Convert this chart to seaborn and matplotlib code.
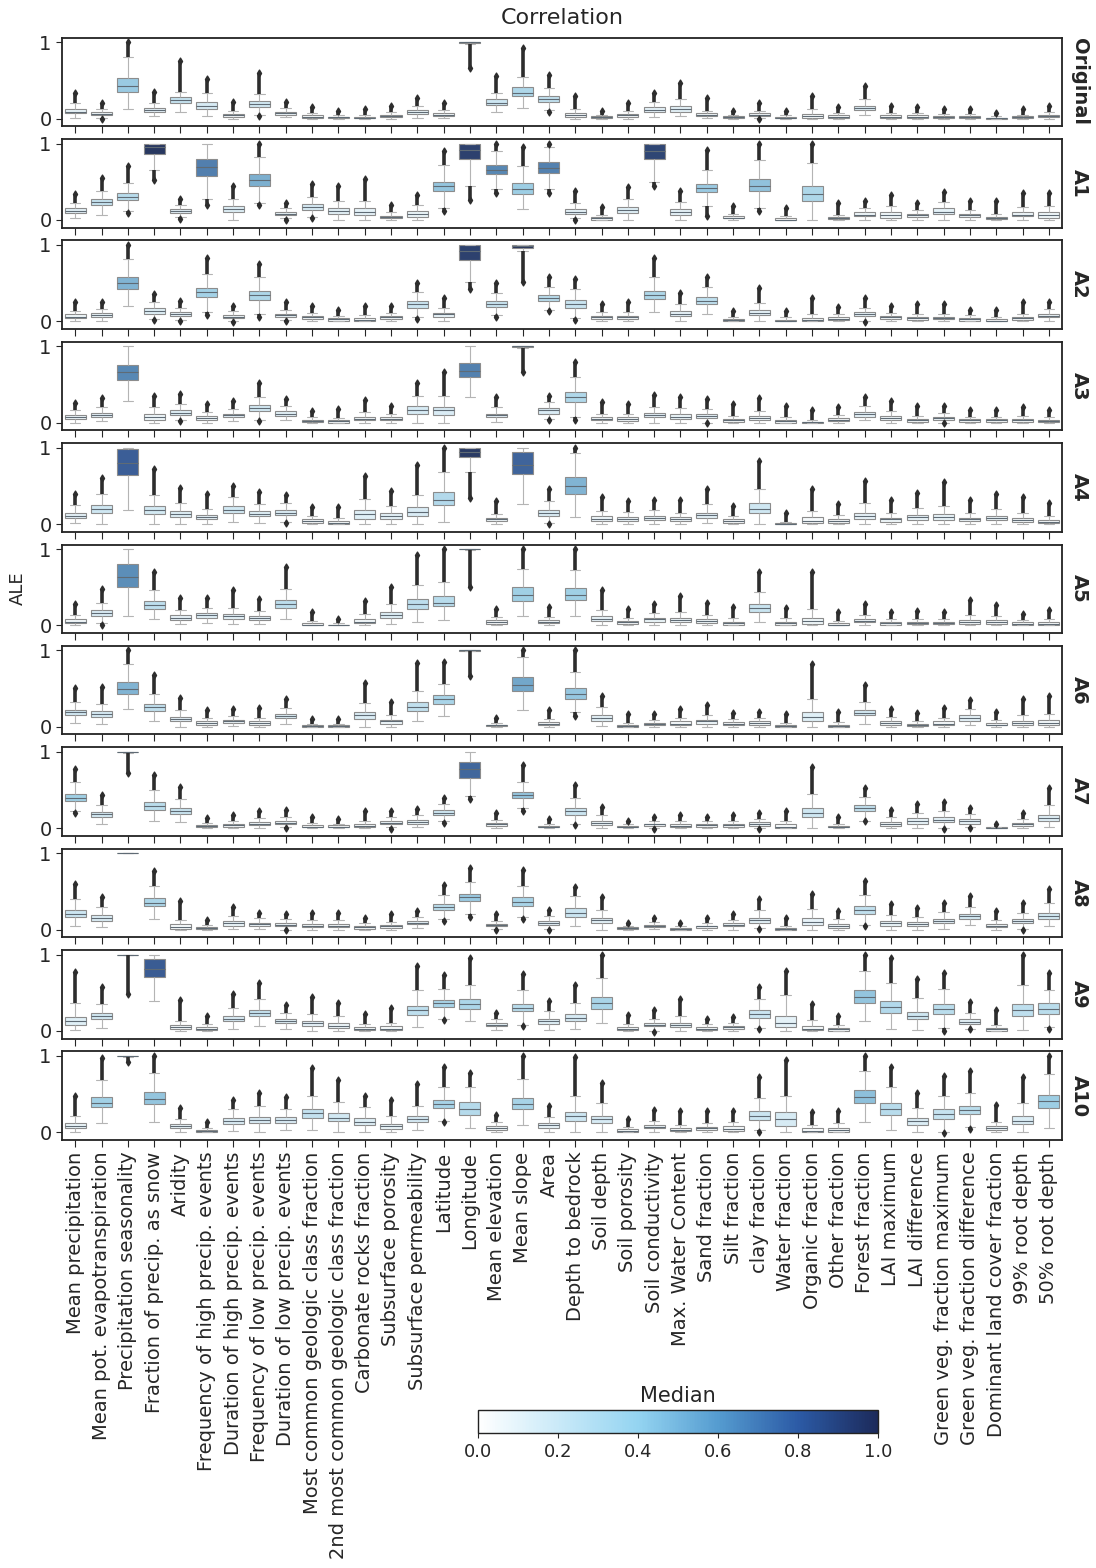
import numpy as np
import pandas as pd
import matplotlib
matplotlib.use('Agg')
import matplotlib.pyplot as plt
import seaborn as sns
from matplotlib.colors import LinearSegmentedColormap, Normalize
from matplotlib.cm import ScalarMappable

features = ['Mean precipitation', 'Mean pot. evapotranspiration', 'Precipitation seasonality',
            'Fraction of precip. as snow', 'Aridity', 'Frequency of high precip. events',
            'Duration of high precip. events', 'Frequency of low precip. events',
            'Duration of low precip. events', 'Most common geologic class fraction',
            '2nd most common geologic class fraction', 'Carbonate rocks fraction',
            'Subsurface porosity', 'Subsurface permeability', 'Latitude', 'Longitude',
            'Mean elevation', 'Mean slope', 'Area', 'Depth to bedrock', 'Soil depth',
            'Soil porosity', 'Soil conductivity', 'Max. Water Content', 'Sand fraction',
            'Silt fraction', 'clay fraction', 'Water fraction', 'Organic fraction',
            'Other fraction', 'Forest fraction', 'LAI maximum', 'LAI difference',
            'Green veg. fraction maximum', 'Green veg. fraction difference',
            'Dominant land cover fraction', '99% root depth', '50% root depth']

row_names = ['Original', 'A1', 'A2', 'A3', 'A4', 'A5', 'A6', 'A7', 'A8', 'A9', 'A10']

# per box: (lowest flier, whisker low, q1, median, q3, whisker high, highest flier)
orig = [(0.01,0.01,0.07,0.09,0.12,0.20,0.33), (0.0,0.01,0.04,0.06,0.08,0.13,0.20),
        (0.13,0.13,0.35,0.42,0.53,0.80,1.0), (0.03,0.03,0.09,0.11,0.14,0.20,0.35),
        (0.08,0.08,0.20,0.24,0.28,0.35,0.76), (0.03,0.03,0.13,0.17,0.22,0.33,0.52),
        (0,0,0.02,0.04,0.06,0.10,0.22), (0.03,0.05,0.15,0.19,0.23,0.32,0.60),
        (0.02,0.02,0.05,0.07,0.09,0.14,0.22), (0,0,0.01,0.02,0.04,0.07,0.15),
        (0,0,0.01,0.015,0.025,0.05,0.10), (0,0,0.005,0.01,0.02,0.04,0.12),
        (0,0,0.02,0.03,0.05,0.09,0.16), (0.01,0.01,0.06,0.08,0.11,0.17,0.27),
        (0.01,0.01,0.03,0.05,0.07,0.11,0.20), (0.66,0.98,0.995,1.0,1.0,1.0,1.0),
        (0.08,0.08,0.18,0.21,0.25,0.34,0.56), (0.14,0.14,0.29,0.34,0.41,0.55,0.92),
        (0.09,0.11,0.22,0.26,0.30,0.40,0.57), (0,0,0.02,0.04,0.07,0.12,0.30),
        (0,0,0.01,0.02,0.03,0.05,0.10), (0,0,0.02,0.04,0.06,0.10,0.20),
        (0.02,0.02,0.09,0.11,0.15,0.22,0.34), (0.03,0.03,0.09,0.12,0.16,0.25,0.46),
        (0.01,0.01,0.03,0.05,0.07,0.10,0.27), (0,0,0.01,0.02,0.03,0.05,0.10),
        (0.0,0.01,0.03,0.05,0.07,0.10,0.20), (0,0,0.005,0.01,0.02,0.04,0.10),
        (0,0,0.01,0.03,0.06,0.12,0.30), (0,0,0.01,0.02,0.04,0.07,0.15),
        (0.04,0.04,0.11,0.14,0.17,0.25,0.42), (0,0,0.01,0.02,0.04,0.07,0.16),
        (0,0,0.01,0.02,0.04,0.07,0.15), (0,0,0.01,0.02,0.03,0.06,0.13),
        (0,0,0.01,0.02,0.03,0.06,0.13), (0,0,0.0,0.005,0.01,0.03,0.07),
        (0,0,0.01,0.02,0.03,0.05,0.12), (0,0,0.02,0.03,0.05,0.08,0.16)]

a1 = [(0.02,0.02,0.09,0.12,0.15,0.22,0.34), (0.06,0.06,0.20,0.24,0.28,0.38,0.55),
      (0.09,0.12,0.26,0.30,0.35,0.48,0.70), (0.52,0.66,0.86,0.96,1.0,1.0,1.0),
      (0.01,0.04,0.09,0.12,0.14,0.20,0.28), (0.20,0.28,0.58,0.69,0.80,1.0,1.0),
      (0,0,0.10,0.14,0.18,0.27,0.44), (0.19,0.22,0.45,0.52,0.60,0.82,1.0),
      (0.0,0.02,0.06,0.08,0.10,0.15,0.22), (0.03,0.04,0.13,0.17,0.21,0.30,0.47),
      (0,0,0.08,0.12,0.15,0.25,0.45), (0,0,0.07,0.11,0.16,0.25,0.53),
      (0,0,0.02,0.04,0.05,0.10,0.20), (0,0,0.04,0.08,0.12,0.20,0.33),
      (0.12,0.15,0.38,0.44,0.50,0.72,0.90), (0.26,0.45,0.80,0.92,1.0,1.0,1.0),
      (0.35,0.40,0.60,0.66,0.72,0.90,1.0), (0.14,0.14,0.34,0.41,0.48,0.70,0.96),
      (0.35,0.40,0.62,0.68,0.76,0.95,1.0), (0.0,0.02,0.08,0.11,0.14,0.22,0.38),
      (0,0,0.005,0.02,0.04,0.07,0.17), (0,0,0.09,0.13,0.17,0.27,0.43),
      (0.45,0.50,0.80,0.90,1.0,1.0,1.0), (0,0,0.07,0.11,0.14,0.24,0.38),
      (0.05,0.18,0.36,0.42,0.47,0.65,0.92), (0,0,0.02,0.03,0.05,0.08,0.18),
      (0.12,0.15,0.38,0.45,0.53,0.78,1.0), (0,0,0.0,0.005,0.02,0.05,0.15),
      (0,0,0.25,0.34,0.45,0.75,1.0), (0,0,0.01,0.02,0.04,0.07,0.22),
      (0,0,0.05,0.07,0.10,0.15,0.25), (0,0,0.03,0.06,0.10,0.18,0.33),
      (0,0,0.04,0.06,0.08,0.13,0.22), (0,0,0.08,0.11,0.15,0.23,0.37),
      (0,0,0.04,0.06,0.08,0.13,0.25), (0,0,0.01,0.02,0.04,0.08,0.25),
      (0,0,0.05,0.07,0.10,0.17,0.35), (0,0,0.03,0.06,0.10,0.18,0.35)]

a2 = [(0,0,0.04,0.06,0.09,0.14,0.25), (0.01,0.01,0.06,0.08,0.11,0.16,0.25),
      (0.20,0.20,0.42,0.50,0.58,0.82,1.0), (0.02,0.03,0.10,0.13,0.17,0.25,0.36),
      (0.0,0.02,0.07,0.09,0.12,0.17,0.27), (0.08,0.12,0.32,0.38,0.44,0.62,0.83),
      (-0.01,0.0,0.04,0.06,0.08,0.13,0.20), (0.06,0.10,0.28,0.34,0.40,0.58,0.75),
      (0.01,0.02,0.06,0.08,0.10,0.15,0.25), (0,0,0.03,0.05,0.07,0.11,0.20),
      (0,0,0.01,0.03,0.04,0.07,0.15), (0,0,0.01,0.02,0.04,0.08,0.20),
      (0,0,0.03,0.05,0.07,0.11,0.20), (0.03,0.05,0.18,0.22,0.27,0.38,0.50),
      (0.01,0.01,0.06,0.09,0.11,0.18,0.30), (0.42,0.52,0.80,0.92,1.0,1.0,1.0),
      (0.06,0.08,0.19,0.23,0.27,0.37,0.50), (0.52,0.92,0.96,0.98,1.0,1.0,1.0),
      (0.13,0.15,0.26,0.30,0.34,0.45,0.58), (0.02,0.04,0.18,0.23,0.28,0.42,0.55),
      (0,0,0.03,0.05,0.07,0.12,0.23), (0,0,0.03,0.05,0.07,0.12,0.25),
      (0.12,0.12,0.29,0.34,0.40,0.58,0.83), (0,0,0.07,0.10,0.14,0.22,0.37),
      (0.09,0.09,0.22,0.27,0.32,0.45,0.58), (0,0,0.01,0.02,0.03,0.06,0.14),
      (0,0,0.08,0.11,0.15,0.24,0.43), (0,0,0.0,0.01,0.02,0.05,0.14),
      (0,0,0.0,0.02,0.04,0.10,0.30), (0,0,0.02,0.03,0.05,0.09,0.19),
      (-0.01,0.01,0.07,0.09,0.12,0.18,0.30), (0,0,0.03,0.05,0.07,0.11,0.20),
      (0,0,0.02,0.04,0.06,0.10,0.22), (0,0,0.03,0.04,0.06,0.10,0.22),
      (0,0,0.01,0.03,0.04,0.08,0.15), (0,0,0.0,0.01,0.03,0.06,0.15),
      (0,0,0.02,0.04,0.06,0.10,0.25), (0.01,0.01,0.05,0.07,0.10,0.16,0.25)]

a3 = [(0,0,0.05,0.07,0.10,0.16,0.26), (0.02,0.02,0.08,0.10,0.13,0.20,0.32),
      (0.29,0.29,0.56,0.66,0.76,1.0,1.0), (0,0,0.04,0.07,0.11,0.20,0.35),
      (0.02,0.03,0.10,0.13,0.17,0.25,0.37), (0,0,0.04,0.06,0.09,0.14,0.25),
      (0.02,0.02,0.07,0.10,0.12,0.18,0.29), (0.02,0.04,0.15,0.19,0.23,0.33,0.52),
      (0.03,0.03,0.09,0.12,0.15,0.22,0.31), (0,0,0.01,0.02,0.04,0.07,0.15),
      (0,0,0.0,0.02,0.03,0.06,0.18), (0,0,0.03,0.05,0.08,0.14,0.30),
      (0,0,0.03,0.05,0.07,0.12,0.22), (0,0,0.12,0.17,0.22,0.35,0.52),
      (0,0,0.10,0.16,0.21,0.35,0.67), (0.33,0.33,0.60,0.68,0.78,1.0,1.0),
      (0.01,0.01,0.07,0.10,0.12,0.20,0.34), (0.66,0.98,0.995,1.0,1.0,1.0,1.0),
      (0.03,0.05,0.12,0.16,0.19,0.27,0.35), (0.04,0.07,0.27,0.33,0.40,0.60,0.80),
      (0,0,0.03,0.05,0.07,0.11,0.27), (0,0,0.02,0.05,0.07,0.12,0.25),
      (0,0,0.07,0.10,0.13,0.21,0.36), (0,0,0.05,0.08,0.11,0.19,0.34),
      (-0.01,0.0,0.06,0.09,0.11,0.18,0.31), (0,0,0.01,0.03,0.05,0.09,0.24),
      (0,0,0.04,0.06,0.09,0.15,0.32), (0,0,0.0,0.02,0.04,0.08,0.22),
      (0,0,0.0,0.005,0.01,0.03,0.16), (0,0,0.02,0.04,0.06,0.10,0.20),
      (0.03,0.03,0.08,0.11,0.14,0.22,0.33), (0,0,0.04,0.06,0.09,0.15,0.28),
      (0,0,0.01,0.03,0.05,0.09,0.22), (-0.01,0.0,0.04,0.06,0.08,0.13,0.22),
      (0,0,0.01,0.03,0.05,0.08,0.17), (0,0,0.01,0.03,0.05,0.08,0.17),
      (0,0,0.01,0.03,0.05,0.09,0.20), (0,0,0.01,0.02,0.04,0.08,0.17)]

a4 = [(0.01,0.01,0.08,0.11,0.15,0.25,0.40), (0,0,0.15,0.20,0.25,0.40,0.60),
      (0.18,0.18,0.64,0.80,0.98,1.0,1.0), (0,0,0.13,0.18,0.23,0.38,0.72),
      (0,0,0.09,0.13,0.17,0.27,0.47), (0,0,0.06,0.09,0.12,0.20,0.39),
      (0.03,0.03,0.15,0.19,0.23,0.35,0.50), (0.01,0.01,0.10,0.13,0.17,0.26,0.42),
      (0.01,0.03,0.12,0.15,0.19,0.27,0.38), (0,0,0.02,0.04,0.06,0.10,0.22),
      (0,0,0.0,0.02,0.04,0.08,0.22), (0,0,0.07,0.13,0.19,0.33,0.63),
      (0,0,0.07,0.11,0.14,0.24,0.43), (0,0,0.10,0.16,0.22,0.38,0.77),
      (0.03,0.03,0.25,0.32,0.42,0.68,1.0), (0.34,0.68,0.88,0.95,1.0,1.0,1.0),
      (0,0,0.04,0.06,0.08,0.13,0.30), (0.26,0.26,0.65,0.78,0.95,1.0,1.0),
      (0.0,0.02,0.11,0.15,0.19,0.30,0.46), (0.09,0.09,0.40,0.50,0.61,0.93,1.0),
      (0,0,0.04,0.07,0.10,0.17,0.36), (0,0,0.04,0.07,0.09,0.16,0.30),
      (0,0,0.05,0.08,0.11,0.19,0.32), (0,0,0.04,0.06,0.09,0.15,0.32),
      (0.01,0.01,0.08,0.12,0.15,0.26,0.46), (0,0,0.02,0.04,0.06,0.10,0.23),
      (0,0,0.14,0.20,0.27,0.46,0.83), (0,0,0.0,0.005,0.01,0.03,0.15),
      (0,0,0.01,0.04,0.09,0.17,0.46), (0,0,0.02,0.04,0.07,0.12,0.26),
      (0,0,0.07,0.10,0.15,0.27,0.56), (0,0,0.03,0.06,0.08,0.15,0.31),
      (0,0,0.05,0.09,0.12,0.21,0.41), (0,0,0.05,0.09,0.13,0.24,0.55),
      (0,0,0.04,0.06,0.08,0.14,0.31), (0,0,0.05,0.08,0.11,0.20,0.40),
      (0,0,0.03,0.05,0.08,0.14,0.36), (0,0,0.01,0.03,0.05,0.10,0.28)]

a5 = [(0,0,0.03,0.05,0.08,0.14,0.28), (0.01,0.03,0.12,0.16,0.20,0.30,0.48),
      (0.12,0.12,0.50,0.64,0.80,1.0,1.0), (0.08,0.08,0.22,0.27,0.32,0.47,0.70),
      (0.02,0.02,0.07,0.10,0.13,0.20,0.36), (0.03,0.03,0.10,0.13,0.16,0.23,0.36),
      (0.02,0.02,0.09,0.12,0.15,0.23,0.46), (0.02,0.02,0.07,0.10,0.12,0.19,0.34),
      (0.08,0.08,0.23,0.28,0.33,0.48,0.76), (0,0,0.005,0.01,0.03,0.06,0.17),
      (0,0,0.0,0.005,0.01,0.03,0.09), (0,0,0.03,0.05,0.08,0.15,0.32),
      (0.02,0.02,0.10,0.14,0.17,0.28,0.50), (0.05,0.05,0.22,0.28,0.35,0.53,0.92),
      (0.07,0.07,0.25,0.30,0.38,0.57,1.0), (0.50,0.99,0.995,1.0,1.0,1.0,1.0),
      (0,0,0.02,0.04,0.07,0.11,0.22), (0.12,0.12,0.32,0.40,0.50,0.74,1.0),
      (0,0,0.03,0.05,0.07,0.11,0.24), (0.12,0.12,0.33,0.40,0.49,0.73,1.0),
      (0,0,0.06,0.09,0.12,0.20,0.46), (0,0,0.02,0.04,0.06,0.10,0.22),
      (0,0,0.05,0.08,0.10,0.16,0.28), (0,0,0.05,0.07,0.10,0.17,0.38),
      (0,0,0.03,0.06,0.08,0.14,0.29), (0,0,0.01,0.03,0.05,0.10,0.24),
      (0.05,0.05,0.18,0.23,0.28,0.44,0.70), (0,0,0.01,0.03,0.05,0.10,0.23),
      (0,0,0.02,0.06,0.10,0.22,0.70), (0,0,0.0,0.01,0.03,0.06,0.17),
      (0,0,0.04,0.06,0.09,0.14,0.28), (0,0,0.01,0.03,0.05,0.09,0.17),
      (0,0,0.02,0.03,0.05,0.09,0.19), (0,0,0.02,0.03,0.05,0.09,0.17),
      (0,0,0.02,0.05,0.07,0.14,0.33), (0,0,0.02,0.04,0.07,0.12,0.27),
      (0,0,0.01,0.02,0.04,0.07,0.15), (0,0,0.01,0.02,0.04,0.08,0.20)]

a6 = [(0.05,0.05,0.15,0.19,0.22,0.32,0.51), (0.04,0.04,0.13,0.17,0.21,0.30,0.52),
      (0.23,0.23,0.43,0.50,0.59,0.82,1.0), (0.08,0.08,0.21,0.26,0.30,0.43,0.68),
      (0,0,0.07,0.10,0.13,0.22,0.38), (0,0,0.03,0.05,0.07,0.12,0.22),
      (0.01,0.01,0.05,0.07,0.09,0.14,0.23), (0,0,0.03,0.05,0.07,0.12,0.24),
      (0.04,0.04,0.11,0.14,0.17,0.24,0.36), (0,0,0.0,0.01,0.02,0.04,0.10),
      (0,0,0.0,0.01,0.02,0.04,0.10), (0,0,0.10,0.15,0.19,0.31,0.57),
      (0,0,0.04,0.07,0.09,0.16,0.32), (0.07,0.07,0.21,0.26,0.32,0.47,0.84),
      (0.14,0.14,0.30,0.36,0.42,0.56,0.85), (0.66,0.99,0.995,1.0,1.0,1.0,1.0),
      (0,0,0.01,0.02,0.03,0.05,0.12), (0.22,0.22,0.47,0.55,0.65,0.92,1.0),
      (0,0,0.02,0.04,0.06,0.10,0.22), (0.14,0.20,0.37,0.43,0.51,0.72,1.0),
      (0.01,0.01,0.08,0.12,0.15,0.26,0.40), (0,0,0.0,0.01,0.02,0.05,0.17),
      (0,0,0.02,0.04,0.05,0.09,0.17), (0,0,0.02,0.04,0.07,0.12,0.23),
      (0,0,0.04,0.07,0.09,0.16,0.29), (0,0,0.02,0.04,0.06,0.10,0.18),
      (0,0,0.02,0.05,0.07,0.12,0.20), (0,0,0.0,0.01,0.02,0.05,0.17),
      (0,0,0.08,0.13,0.20,0.36,0.82), (0,0,0.0,0.01,0.02,0.06,0.19),
      (0.04,0.04,0.15,0.18,0.22,0.33,0.55), (0,0,0.03,0.05,0.08,0.13,0.23),
      (0,0,0.01,0.02,0.04,0.08,0.18), (0,0,0.02,0.04,0.07,0.12,0.25),
      (0.02,0.02,0.08,0.11,0.15,0.23,0.35), (0,0,0.02,0.03,0.05,0.09,0.20),
      (0,0,0.03,0.05,0.08,0.15,0.37), (0,0,0.03,0.05,0.09,0.17,0.40)]

a7 = [(0.20,0.22,0.35,0.40,0.45,0.60,0.77), (0.05,0.05,0.14,0.18,0.21,0.31,0.44),
      (0.72,0.99,0.995,1.0,1.0,1.0,1.0), (0.10,0.10,0.24,0.29,0.34,0.50,0.70),
      (0.08,0.08,0.19,0.23,0.27,0.38,0.54), (0,0,0.01,0.03,0.04,0.07,0.13),
      (0,0,0.02,0.04,0.05,0.09,0.17), (0,0,0.04,0.06,0.08,0.13,0.23),
      (0.0,0.01,0.05,0.07,0.10,0.15,0.24), (0,0,0.01,0.02,0.04,0.07,0.15),
      (0,0,0.01,0.02,0.04,0.06,0.12), (0,0,0.01,0.03,0.05,0.09,0.22),
      (-0.01,0.01,0.05,0.07,0.10,0.15,0.22), (0.01,0.01,0.06,0.08,0.11,0.17,0.25),
      (0.07,0.09,0.17,0.20,0.24,0.32,0.40), (0.38,0.42,0.66,0.77,0.87,1.0,1.0),
      (0,0,0.03,0.05,0.07,0.11,0.20), (0.22,0.26,0.39,0.44,0.48,0.61,0.83),
      (0,0,0.01,0.02,0.03,0.06,0.12), (0.04,0.05,0.17,0.22,0.27,0.40,0.56),
      (0,0,0.04,0.07,0.10,0.17,0.28), (0,0,0.01,0.02,0.03,0.05,0.10),
      (-0.01,0.0,0.03,0.05,0.06,0.10,0.15), (0,0,0.01,0.03,0.05,0.09,0.17),
      (0,0,0.02,0.04,0.05,0.09,0.15), (0,0,0.02,0.04,0.06,0.10,0.17),
      (-0.01,0.0,0.03,0.06,0.08,0.12,0.20), (0,0,0.0,0.02,0.05,0.10,0.22),
      (0,0,0.14,0.20,0.27,0.45,0.80), (0,0,0.01,0.02,0.03,0.06,0.15),
      (0.09,0.10,0.22,0.26,0.30,0.41,0.52), (0,0,0.03,0.05,0.08,0.14,0.24),
      (0,0,0.06,0.09,0.13,0.20,0.32), (-0.01,0.0,0.08,0.11,0.15,0.23,0.34),
      (0.0,0.01,0.06,0.09,0.12,0.18,0.26), (0,0,0.0,0.003,0.01,0.02,0.06),
      (0,0,0.03,0.05,0.07,0.12,0.20), (0.01,0.01,0.09,0.13,0.17,0.30,0.53)]

a8 = [(0.04,0.04,0.17,0.21,0.26,0.40,0.60), (0.03,0.03,0.11,0.15,0.19,0.30,0.42),
      (1.0,1.0,1.0,1.0,1.0,1.0,1.0), (0.14,0.14,0.31,0.35,0.41,0.57,0.77),
      (0,0,0.01,0.03,0.07,0.13,0.37), (0,0,0.01,0.02,0.03,0.06,0.13),
      (0.01,0.01,0.05,0.08,0.11,0.18,0.29), (0.01,0.01,0.05,0.07,0.09,0.15,0.22),
      (-0.01,0.0,0.04,0.06,0.09,0.14,0.21), (0,0,0.03,0.05,0.07,0.12,0.22),
      (0,0,0.03,0.05,0.07,0.12,0.22), (0,0,0.01,0.03,0.05,0.08,0.15),
      (0,0,0.02,0.04,0.06,0.10,0.20), (0.02,0.02,0.07,0.09,0.11,0.17,0.24),
      (0.11,0.14,0.26,0.29,0.33,0.45,0.58), (0.17,0.20,0.37,0.42,0.47,0.62,0.80),
      (-0.01,0.01,0.04,0.06,0.07,0.11,0.20), (0.14,0.17,0.31,0.36,0.42,0.57,0.78),
      (-0.01,0.01,0.06,0.09,0.11,0.18,0.26), (0.05,0.05,0.16,0.22,0.28,0.44,0.56),
      (0,0,0.08,0.12,0.15,0.26,0.42), (0,0,0.01,0.02,0.03,0.05,0.09),
      (0.01,0.01,0.03,0.05,0.06,0.10,0.15), (0,0,0.0,0.01,0.02,0.04,0.09),
      (0,0,0.02,0.04,0.05,0.09,0.15), (0,0,0.04,0.06,0.08,0.12,0.20),
      (0.01,0.02,0.09,0.12,0.15,0.25,0.40), (0,0,0.0,0.01,0.02,0.05,0.15),
      (0,0,0.06,0.10,0.15,0.27,0.47), (0,0,0.02,0.05,0.07,0.14,0.24),
      (0.05,0.06,0.21,0.26,0.31,0.45,0.64), (0,0,0.05,0.08,0.11,0.19,0.34),
      (0,0,0.04,0.07,0.10,0.17,0.28), (0.01,0.01,0.08,0.11,0.14,0.23,0.35),
      (0.06,0.06,0.14,0.18,0.21,0.30,0.44), (0,0,0.03,0.05,0.07,0.12,0.24),
      (0.0,0.01,0.08,0.11,0.14,0.22,0.35), (0.04,0.04,0.14,0.18,0.22,0.35,0.53)]

a9 = [(0.01,0.01,0.08,0.13,0.18,0.36,0.77), (0.04,0.04,0.16,0.19,0.23,0.35,0.57),
      (0.49,0.99,0.995,1.0,1.0,1.0,1.0), (0.39,0.39,0.70,0.81,0.94,1.0,1.0),
      (0,0,0.03,0.05,0.08,0.13,0.40), (0,0,0.01,0.03,0.05,0.09,0.20),
      (0.02,0.02,0.13,0.16,0.20,0.30,0.48), (0.06,0.06,0.19,0.24,0.28,0.42,0.63),
      (0.03,0.03,0.10,0.13,0.16,0.23,0.34), (0,0,0.07,0.10,0.13,0.22,0.44),
      (0,0,0.04,0.07,0.11,0.20,0.37), (0,0,0.01,0.03,0.05,0.09,0.22),
      (0,0,0.01,0.03,0.06,0.11,0.30), (0.05,0.05,0.21,0.27,0.33,0.53,0.85),
      (0.14,0.16,0.31,0.36,0.40,0.55,0.73), (0.13,0.13,0.29,0.35,0.42,0.60,0.95),
      (0.01,0.01,0.06,0.08,0.10,0.15,0.23), (0.06,0.08,0.26,0.30,0.35,0.53,0.74),
      (0.01,0.01,0.09,0.13,0.16,0.26,0.39), (0.02,0.02,0.13,0.17,0.22,0.37,0.60),
      (0.10,0.10,0.29,0.36,0.44,0.69,1.0), (0,0,0.01,0.03,0.05,0.09,0.21),
      (-0.01,0.0,0.06,0.08,0.10,0.16,0.28), (0,0,0.05,0.08,0.11,0.20,0.42),
      (0,0,0.01,0.03,0.05,0.09,0.16), (0,0,0.03,0.05,0.07,0.11,0.18),
      (0.02,0.04,0.17,0.22,0.27,0.42,0.58), (0,0,0.05,0.11,0.19,0.47,0.78),
      (0,0,0.01,0.03,0.07,0.14,0.35), (0,0,0.0,0.02,0.04,0.08,0.19),
      (0.13,0.13,0.37,0.44,0.53,0.78,1.0), (0.02,0.02,0.24,0.32,0.39,0.63,0.95),
      (0.01,0.01,0.15,0.20,0.25,0.43,0.68), (0.0,0.04,0.22,0.29,0.35,0.55,0.76),
      (0.02,0.03,0.09,0.12,0.15,0.24,0.38), (0,0,0.0,0.02,0.04,0.08,0.27),
      (0.01,0.01,0.19,0.27,0.35,0.60,1.0), (0.02,0.05,0.22,0.29,0.36,0.53,0.76)]

a10 = [(0,0,0.05,0.08,0.12,0.21,0.47), (0.12,0.12,0.33,0.39,0.46,0.69,0.98),
       (0.92,0.99,0.995,1.0,1.0,1.0,1.0), (0.14,0.14,0.37,0.44,0.53,0.78,1.0),
       (0,0,0.05,0.08,0.11,0.18,0.32), (0,0,0.0,0.02,0.03,0.06,0.14),
       (0.02,0.02,0.11,0.15,0.19,0.30,0.42), (0.01,0.01,0.12,0.16,0.20,0.34,0.52),
       (0.03,0.03,0.12,0.16,0.20,0.31,0.46), (0.03,0.03,0.19,0.25,0.31,0.48,0.84),
       (0,0,0.15,0.19,0.25,0.40,0.68), (0,0,0.10,0.14,0.19,0.33,0.47),
       (0,0,0.04,0.08,0.11,0.21,0.42), (0.03,0.03,0.13,0.17,0.22,0.34,0.63),
       (0.13,0.15,0.32,0.37,0.42,0.59,0.86), (0.05,0.05,0.23,0.31,0.40,0.60,0.78),
       (0,0,0.03,0.05,0.08,0.14,0.23), (0.10,0.10,0.30,0.37,0.45,0.70,1.0),
       (0,0,0.06,0.09,0.12,0.20,0.35), (0,0,0.15,0.21,0.27,0.48,0.99),
       (0,0,0.12,0.17,0.22,0.38,0.65), (0,0,0.01,0.02,0.04,0.07,0.17),
       (0,0,0.05,0.07,0.10,0.15,0.29), (0,0,0.02,0.03,0.05,0.10,0.28),
       (0,0,0.03,0.05,0.07,0.12,0.28), (0,0,0.02,0.04,0.08,0.14,0.28),
       (0.0,0.03,0.16,0.22,0.28,0.45,0.72), (0,0,0.08,0.17,0.26,0.48,0.95),
       (0,0,0.0,0.02,0.05,0.10,0.27), (0,0,0.01,0.03,0.06,0.12,0.28),
       (0.14,0.14,0.39,0.46,0.55,0.80,1.0), (0.03,0.03,0.23,0.30,0.38,0.60,0.86),
       (0,0,0.10,0.15,0.19,0.32,0.52), (-0.01,0.01,0.18,0.24,0.30,0.48,0.74),
       (0.04,0.07,0.24,0.29,0.35,0.52,0.80), (0,0,0.03,0.06,0.08,0.14,0.36),
       (0,0,0.11,0.15,0.21,0.38,0.73), (0.05,0.05,0.32,0.41,0.49,0.77,1.0)]

row_data = [orig, a1, a2, a3, a4, a5, a6, a7, a8, a9, a10]

cmap = LinearSegmentedColormap.from_list(
    'median', [(0.0, '#ffffff'), (0.4, '#94d4f1'), (0.6, '#559cd0'),
               (0.8, '#2c5ba6'), (1.0, '#1c2a5b')])
norm = Normalize(0, 1)

sns.set_style('ticks')
plt.rcParams['font.family'] = ['DejaVu Sans']
plt.rcParams['axes.linewidth'] = 1.3
plt.rcParams['axes.edgecolor'] = '#222222'

fig, axes = plt.subplots(len(row_names), 1, figsize=(10.96, 15.68), dpi=100, sharex=True)
fig.subplots_adjust(left=0.0566, right=0.969, top=0.976, bottom=0.273, hspace=0.145)

for ax, name, stats in zip(axes, row_names, row_data):
    # five values per feature reproduce whisker ends and quartiles exactly
    recs = [(f, v) for f, s in zip(features, stats) for v in s[1:6]]
    df = pd.DataFrame(recs, columns=['feature', 'ALE'])
    pal = {f: cmap(norm(s[3])) for f, s in zip(features, stats)}
    sns.boxplot(data=df, x='feature', y='ALE', hue='feature', palette=pal, legend=False,
                order=features, hue_order=features, whis=(0, 100), showfliers=False,
                width=0.8, linewidth=0.8, linecolor='#8c8c8c',
                medianprops={'color': '#5f6b75'},
                whiskerprops={'color': '#b4b4b4'}, capprops={'color': '#b4b4b4'}, ax=ax)

    # outliers: dense columns of diamonds
    for i, s in enumerate(stats):
        if s[6] > s[5]:
            ax.vlines(i, s[5], s[6], color='#2d2d2d', lw=2.6, zorder=3)
            ax.scatter([i], [s[6]], marker='d', s=12, color='#2d2d2d', zorder=3)
        if s[0] < s[1]:
            ax.vlines(i, s[0], s[1], color='#2d2d2d', lw=2.6, zorder=3)
            ax.scatter([i], [s[0]], marker='d', s=12, color='#2d2d2d', zorder=3)

    ax.set_xlim(-0.5, len(features) - 0.5)
    ax.set_ylim(-0.1, 1.06)
    ax.set_yticks([0, 1])
    ax.set_yticklabels(['0', '1'])
    ax.set_xlabel('')
    ax.set_ylabel('')
    ax.tick_params(axis='y', labelsize=14, length=4)
    ax.tick_params(axis='x', length=5)
    ax.text(1.008, 0.5, name, transform=ax.transAxes, rotation=270, va='center',
            ha='left', fontsize=14, fontweight='bold')
    for sp in ax.spines.values():
        sp.set_visible(True)

for ax in axes[:-1]:
    ax.tick_params(axis='x', labelbottom=False)
axes[-1].tick_params(axis='x', labelrotation=90, labelsize=14)

axes[0].set_title('Correlation', fontsize=16, pad=10)
fig.text(0.016, 0.625, 'ALE', rotation=90, va='center', ha='center', fontsize=13)

cax = fig.add_axes([0.436, 0.086, 0.365, 0.0147])
cb = fig.colorbar(ScalarMappable(norm=norm, cmap=cmap), cax=cax, orientation='horizontal')
cb.set_ticks([0.0, 0.2, 0.4, 0.6, 0.8, 1.0])
cb.ax.tick_params(labelsize=13)
cb.set_label('Median', fontsize=15, labelpad=6)
cax.xaxis.set_label_position('top')
cb.outline.set_linewidth(1.0)

fig.savefig('out.png', dpi=100)
